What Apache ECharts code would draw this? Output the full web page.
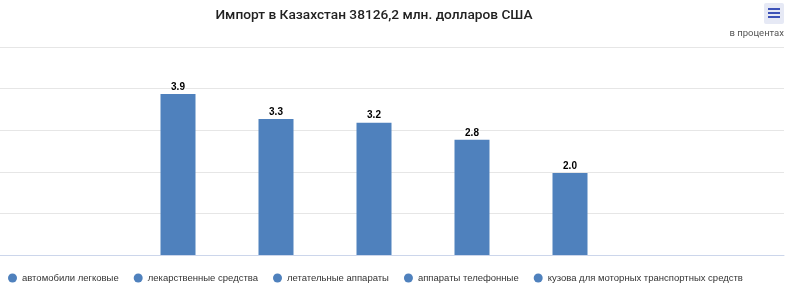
<!DOCTYPE html>
<html>
<head>
<meta charset="utf-8">
<script src="https://cdn.jsdelivr.net/npm/echarts@6/dist/echarts.min.js"></script>
<style>html,body{margin:0;padding:0;background:#fff;}#c{width:800px;height:290px;}</style>
</head>
<body>
<div id="c"></div>
<script>
var titleText = 'Импорт в Казахстан 38126,2 млн. долларов США';
var unitText = 'в процентах';
var categories = [''];
var seriesNames = ['автомобили легковые', 'лекарственные средства', 'летательные аппараты', 'аппараты телефонные', 'кузова для моторных транспортных средств'];
var seriesValues = [3.87, 3.27, 3.18, 2.77, 1.97];
var yMin = 0, yMax = 5, yInterval = 1;

var chart = echarts.init(document.getElementById('c'), null, {renderer: 'canvas'});
var barColor = '#4f81bd';
var series = seriesNames.map(function (name, i) {
  return {
    name: name,
    type: 'bar',
    xAxisIndex: 1,
    yAxisIndex: 1,
    data: [seriesValues[i]],
    barWidth: 35,
    barGap: '180%',
    itemStyle: {color: barColor},
    label: {
      show: true,
      position: 'top',
      distance: 2,
      formatter: function (p) { return p.value.toFixed(1); },
      fontFamily: 'Liberation Sans',
      fontSize: 10,
      fontWeight: 'bold',
      color: '#000',
      textBorderColor: '#fff',
      textBorderWidth: 2
    }
  };
});

chart.setOption({
  animation: false,
  color: [barColor],
  title: [{
    text: titleText,
    left: 374,
    top: 9,
    padding: 0,
    textAlign: 'center',
    textStyle: {fontFamily: 'Roboto', fontSize: 13.7, fontWeight: 500, color: '#222'}
  }, {
    text: unitText,
    right: 16,
    top: 29,
    padding: 0,
    textStyle: {fontFamily: 'Roboto', fontSize: 9.5, fontWeight: 'normal', color: '#555'}
  }],
  legend: {
    data: seriesNames,
    left: 3,
    top: 268,
    width: 790,
    icon: 'circle',
    itemWidth: 9,
    itemHeight: 9,
    itemGap: 15,
    textStyle: {fontFamily: 'Liberation Sans', fontSize: 9.5, color: '#333'}
  },
  grid: [
    {left: 0, right: 16, top: 47, bottom: 35, containLabel: false},
    {left: 0, right: 52, top: 47, bottom: 35, containLabel: false}
  ],
  xAxis: [{
    gridIndex: 0,
    type: 'category',
    data: categories,
    axisLine: {lineStyle: {color: '#ccd6eb'}},
    axisTick: {show: false},
    axisLabel: {show: false}
  }, {
    gridIndex: 1,
    type: 'category',
    data: categories,
    axisLine: {show: false},
    axisTick: {show: false},
    axisLabel: {show: false}
  }],
  yAxis: [{
    gridIndex: 0,
    type: 'value',
    min: yMin,
    max: yMax,
    interval: yInterval,
    axisLabel: {show: false},
    axisLine: {show: false},
    axisTick: {show: false},
    splitLine: {lineStyle: {color: '#e6e6e6'}}
  }, {
    gridIndex: 1,
    type: 'value',
    min: yMin,
    max: yMax,
    interval: yInterval,
    axisLabel: {show: false},
    axisLine: {show: false},
    axisTick: {show: false},
    splitLine: {show: false}
  }],
  graphic: [{
    type: 'rect',
    shape: {x: 764, y: 3, width: 20, height: 21, r: 2},
    style: {fill: '#e6e9f5'}
  }, {
    type: 'rect', shape: {x: 768, y: 8, width: 12, height: 2}, style: {fill: '#3d52b8'}
  }, {
    type: 'rect', shape: {x: 768, y: 12, width: 12, height: 2}, style: {fill: '#3d52b8'}
  }, {
    type: 'rect', shape: {x: 768, y: 16, width: 12, height: 2}, style: {fill: '#3d52b8'}
  }],
  series: series
});
</script>
</body>
</html>
